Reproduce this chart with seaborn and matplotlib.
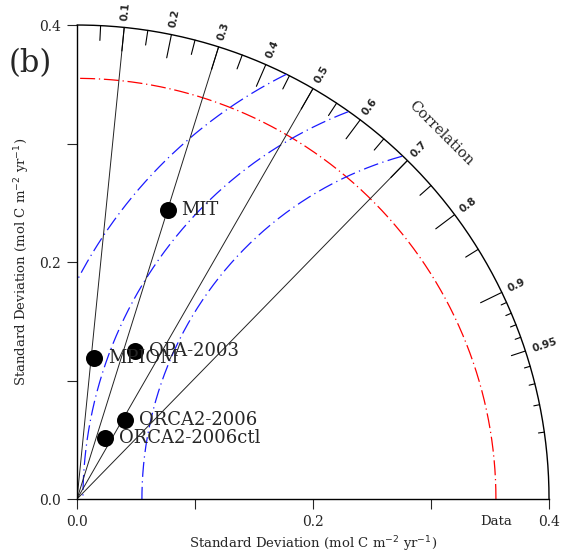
import numpy as np
import pandas as pd
import matplotlib
matplotlib.use("Agg")
import matplotlib.pyplot as plt
import seaborn as sns

# ---------- values ----------
models = ["MIT", "MPIOM", "OPA-2003", "ORCA2-2006", "ORCA2-2006ctl"]
model_std = [0.256, 0.120, 0.134, 0.078, 0.057]
model_corr = [0.30, 0.12, 0.365, 0.525, 0.415]

ref_std = 0.355          # "Data" standard deviation
max_std = 0.4
rms_levels = [0.30, 0.35, 0.40]
corr_lines = [0.1, 0.3, 0.5, 0.7]
corr_major = [0.1, 0.2, 0.3, 0.4, 0.5, 0.6, 0.7, 0.8, 0.9]
corr_mid = [0.05, 0.15, 0.25, 0.35, 0.45, 0.55, 0.65, 0.75, 0.85, 0.95]
corr_fine = [0.91, 0.92, 0.93, 0.94, 0.96, 0.97, 0.98, 0.99]
corr_labels = [0.1, 0.2, 0.3, 0.4, 0.5, 0.6, 0.7, 0.8, 0.9, 0.95]
std_ticks = [0.0, 0.1, 0.2, 0.3, 0.4]
std_ticklabels = ["0.0", "", "0.2", "", "0.4"]

sns.set_style("white")
plt.rcParams["font.family"] = ["DejaVu Serif"]

df = pd.DataFrame({"model": models, "std": model_std, "corr": model_corr})
df["x"] = df["std"] * df["corr"]
df["y"] = df["std"] * np.sqrt(1 - df["corr"] ** 2)

fig = plt.figure(figsize=(5.68, 5.55), dpi=100)
ax = fig.add_axes([0.1356, 0.1009, 0.831, 0.854])
ax.set_xlim(0, max_std)
ax.set_ylim(0, max_std)

# outer arc
t = np.linspace(0, np.pi / 2, 400)
ax.plot(max_std * np.cos(t), max_std * np.sin(t), color="black", lw=1.0, clip_on=False)

# reference std arc (red)
ax.plot(ref_std * np.cos(t), ref_std * np.sin(t), color="red", lw=0.9,
        dashes=(12, 3, 1, 3))

# centred RMS arcs (blue)
tt = np.linspace(0, np.pi, 1200)
for r in rms_levels:
    xx = ref_std + r * np.cos(tt)
    yy = r * np.sin(tt)
    m = (xx >= 0) & (xx ** 2 + yy ** 2 <= max_std ** 2)
    xx = np.where(m, xx, np.nan)
    yy = np.where(m, yy, np.nan)
    ax.plot(xx, yy, color="#1a1aff", lw=0.9, dashes=(12, 3.5, 1, 3.5))

# correlation rays
for c in corr_lines:
    a = np.arccos(c)
    ax.plot([0, max_std * np.cos(a)], [0, max_std * np.sin(a)],
            color="#222222", lw=0.7)

# correlation ticks on the outer arc
for cs, L in [(corr_major, 0.02), (corr_mid, 0.0125), (corr_fine, 0.005)]:
    for c in cs:
        a = np.arccos(c)
        ax.plot([max_std * np.cos(a), (max_std - L) * np.cos(a)],
                [max_std * np.sin(a), (max_std - L) * np.sin(a)],
                color="black", lw=0.8, clip_on=False)

for c in corr_labels:
    a = np.arccos(c)
    rr = max_std + 0.006
    ax.text(rr * np.cos(a), rr * np.sin(a), f"{c:g}", rotation=np.degrees(a),
            rotation_mode="anchor", ha="left", va="center", fontsize=7.5,
            family="DejaVu Sans", weight="bold", clip_on=False)

ax.text(0.436 * np.cos(np.pi / 4), 0.436 * np.sin(np.pi / 4), "Correlation",
        rotation=-45, ha="center", va="center", fontsize=10.5,
        rotation_mode="anchor")

# model points
sns.scatterplot(data=df, x="x", y="y", ax=ax, color="black", s=150,
                edgecolor="black", linewidth=0, legend=False, zorder=5,
                clip_on=False)
for _, row in df.iterrows():
    ax.annotate(row["model"], (row["x"], row["y"]), xytext=(10, 0),
                textcoords="offset points", ha="left", va="center",
                fontsize=13, zorder=6)

# axes
for s in ["top", "right"]:
    ax.spines[s].set_visible(False)
for s in ["left", "bottom"]:
    ax.spines[s].set_color("black")
    ax.spines[s].set_linewidth(1.0)
ax.set_xticks(std_ticks)
ax.set_xticklabels(std_ticklabels)
ax.set_yticks(std_ticks)
ax.set_yticklabels(std_ticklabels)
ax.tick_params(direction="out", length=7.5, width=0.8, pad=4, labelsize=10,
               bottom=True, left=True)
# "Data" marker label on the x axis
ax.set_xticks([ref_std], ["Data"], minor=True)
ax.tick_params(axis="x", which="minor", length=0, pad=11.5, labelsize=9.5,
               bottom=True)

ax.set_xlabel("Standard Deviation (mol C m$^{-2}$ yr$^{-1}$)", fontsize=9.5,
              labelpad=4)
ax.set_ylabel("Standard Deviation (mol C m$^{-2}$ yr$^{-1}$)", fontsize=9.5,
              labelpad=5)
ax.grid(False)

fig.text(0.053, 0.886, "(b)", fontsize=22, ha="center", va="center")

fig.savefig("out.png", dpi=100)
